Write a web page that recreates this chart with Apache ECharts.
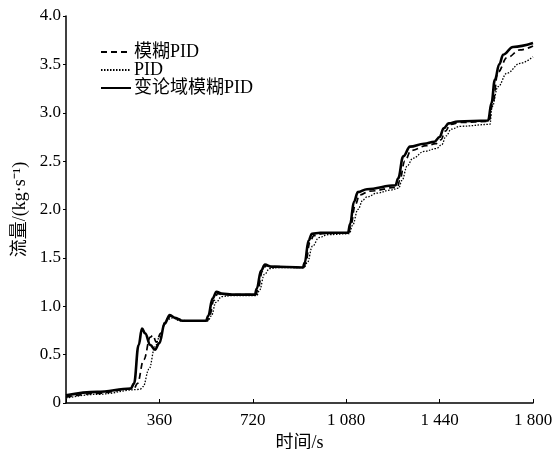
<!DOCTYPE html>
<html>
<head>
<meta charset="utf-8">
<script src="https://cdn.jsdelivr.net/npm/echarts@6/dist/echarts.min.js"></script>
<style>html,body{margin:0;padding:0;background:#fff;}#c{width:552px;height:449px;}</style>
</head>
<body>
<div id="c"></div>
<script>
var seriesNames = ['模糊PID', 'PID', '变论域模糊PID'];
var xTicks = [0, 360, 720, 1080, 1440, 1800];
var yTicks = [0, 0.5, 1.0, 1.5, 2.0, 2.5, 3.0, 3.5, 4.0];

var fuzzyPID = [[0,0.06],[120,0.10],[262,0.15],[275,0.2],[300,0.45],[325,0.68],[335,0.70],[348,0.63],[365,0.72],[385,0.86],[405,0.9],[430,0.87],[460,0.85],[545,0.85],[553,0.9],[570,1.06],[585,1.13],[605,1.12],[732,1.12],[740,1.18],[757,1.36],[772,1.42],[800,1.41],[916,1.40],[924,1.45],[940,1.66],[955,1.73],[990,1.75],[1090,1.76],[1098,1.84],[1115,2.05],[1132,2.15],[1170,2.19],[1278,2.23],[1286,2.3],[1306,2.5],[1330,2.61],[1390,2.66],[1425,2.68],[1445,2.72],[1462,2.81],[1482,2.88],[1520,2.9],[1630,2.91],[1645,3.1],[1665,3.42],[1700,3.57],[1750,3.65],[1800,3.69]];

var pid = [[0,0.05],[120,0.09],[285,0.14],[297,0.17],[320,0.35],[343,0.58],[360,0.68],[389,0.86],[410,0.88],[440,0.85],[548,0.85],[560,0.9],[578,1.04],[600,1.1],[640,1.11],[735,1.11],[745,1.16],[765,1.33],[785,1.39],[820,1.40],[918,1.40],[930,1.45],[950,1.62],[975,1.71],[1010,1.74],[1092,1.75],[1105,1.84],[1125,2.0],[1145,2.10],[1160,2.13],[1200,2.17],[1249,2.2],[1282,2.22],[1295,2.3],[1315,2.45],[1337,2.53],[1380,2.6],[1428,2.63],[1448,2.67],[1465,2.76],[1485,2.83],[1520,2.86],[1634,2.88],[1642,3.06],[1665,3.27],[1700,3.41],[1750,3.51],[1800,3.58]];

var varFuzzyPID = [[0,0.08],[120,0.115],[250,0.15],[262,0.2],[280,0.6],[293,0.77],[305,0.72],[325,0.6],[343,0.55],[360,0.62],[380,0.82],[400,0.91],[420,0.88],[450,0.85],[540,0.85],[548,0.9],[565,1.08],[580,1.15],[600,1.13],[640,1.12],[728,1.12],[735,1.18],[752,1.37],[767,1.43],[790,1.41],[913,1.40],[920,1.45],[935,1.68],[948,1.75],[980,1.76],[1087,1.76],[1095,1.85],[1110,2.08],[1125,2.18],[1160,2.21],[1270,2.25],[1280,2.32],[1300,2.55],[1326,2.65],[1380,2.68],[1420,2.70],[1440,2.75],[1456,2.84],[1475,2.89],[1510,2.91],[1627,2.92],[1640,3.1],[1653,3.34],[1670,3.5],[1685,3.6],[1723,3.68],[1800,3.72]];

var serif = '"Liberation Serif","Noto Sans CJK SC",serif';
var chart = echarts.init(document.getElementById('c'), null, {renderer: 'canvas'});
function mk(name, data, ls) {
  return {name: name, type: 'line', data: data, showSymbol: false, symbol: 'none',
    smooth: 0.4, smoothMonotone: 'x', lineStyle: ls, itemStyle: {color: '#000'}, z: ls.width > 2 ? 3 : 2};
}
chart.setOption({
  animation: false,
  backgroundColor: '#fff',
  grid: {left: 66, right: 19, top: 16, bottom: 46, containLabel: false, outerBoundsMode: 'none'},
  legend: {
    orient: 'vertical', left: 95, top: 38, itemWidth: 30, itemHeight: 14, itemGap: 0,
    itemStyle: {opacity: 0},
    textStyle: {fontFamily: serif, fontSize: 18, color: '#000', padding: [0,0,0,-2]},
    data: seriesNames
  },
  xAxis: {
    type: 'value', min: xTicks[0], max: xTicks[xTicks.length-1], interval: 360,
    name: '时间/s', nameLocation: 'middle', nameGap: 28,
    nameTextStyle: {fontFamily: serif, fontSize: 18, color: '#000'},
    axisLine: {lineStyle: {color: '#000', width: 1.5}},
    axisTick: {inside: true, length: 4, lineStyle: {color: '#000'}},
    axisLabel: {fontFamily: serif, fontSize: 17, color: '#000', margin: 9,
      formatter: function (v) { if (v === 0) return ''; var s = String(v); return s.length > 3 ? s.slice(0, s.length-3) + ' ' + s.slice(-3) : s; }},
    splitLine: {show: false}
  },
  yAxis: {
    type: 'value', min: yTicks[0], max: yTicks[yTicks.length-1], interval: 0.5,
    name: '流量/(kg·s⁻¹)', nameLocation: 'middle', nameGap: 32,
    nameTextStyle: {fontFamily: serif, fontSize: 18, color: '#000'},
    axisLine: {show: true, lineStyle: {color: '#000', width: 1.5}},
    axisTick: {show: true, length: 3, lineStyle: {color: '#000'}},
    axisLabel: {fontFamily: serif, fontSize: 17, color: '#000', margin: 5,
      formatter: function (v) { return v === 0 ? '0' : v.toFixed(1); }},
    splitLine: {show: false}
  },
  series: [
    mk(seriesNames[0], fuzzyPID, {color: '#000', width: 1.7, type: [6, 4]}),
    mk(seriesNames[1], pid, {color: '#000', width: 1.3, type: [1.5, 1.5]}),
    mk(seriesNames[2], varFuzzyPID, {color: '#000', width: 2.6, type: 'solid'})
  ]
});
</script>
</body>
</html>
